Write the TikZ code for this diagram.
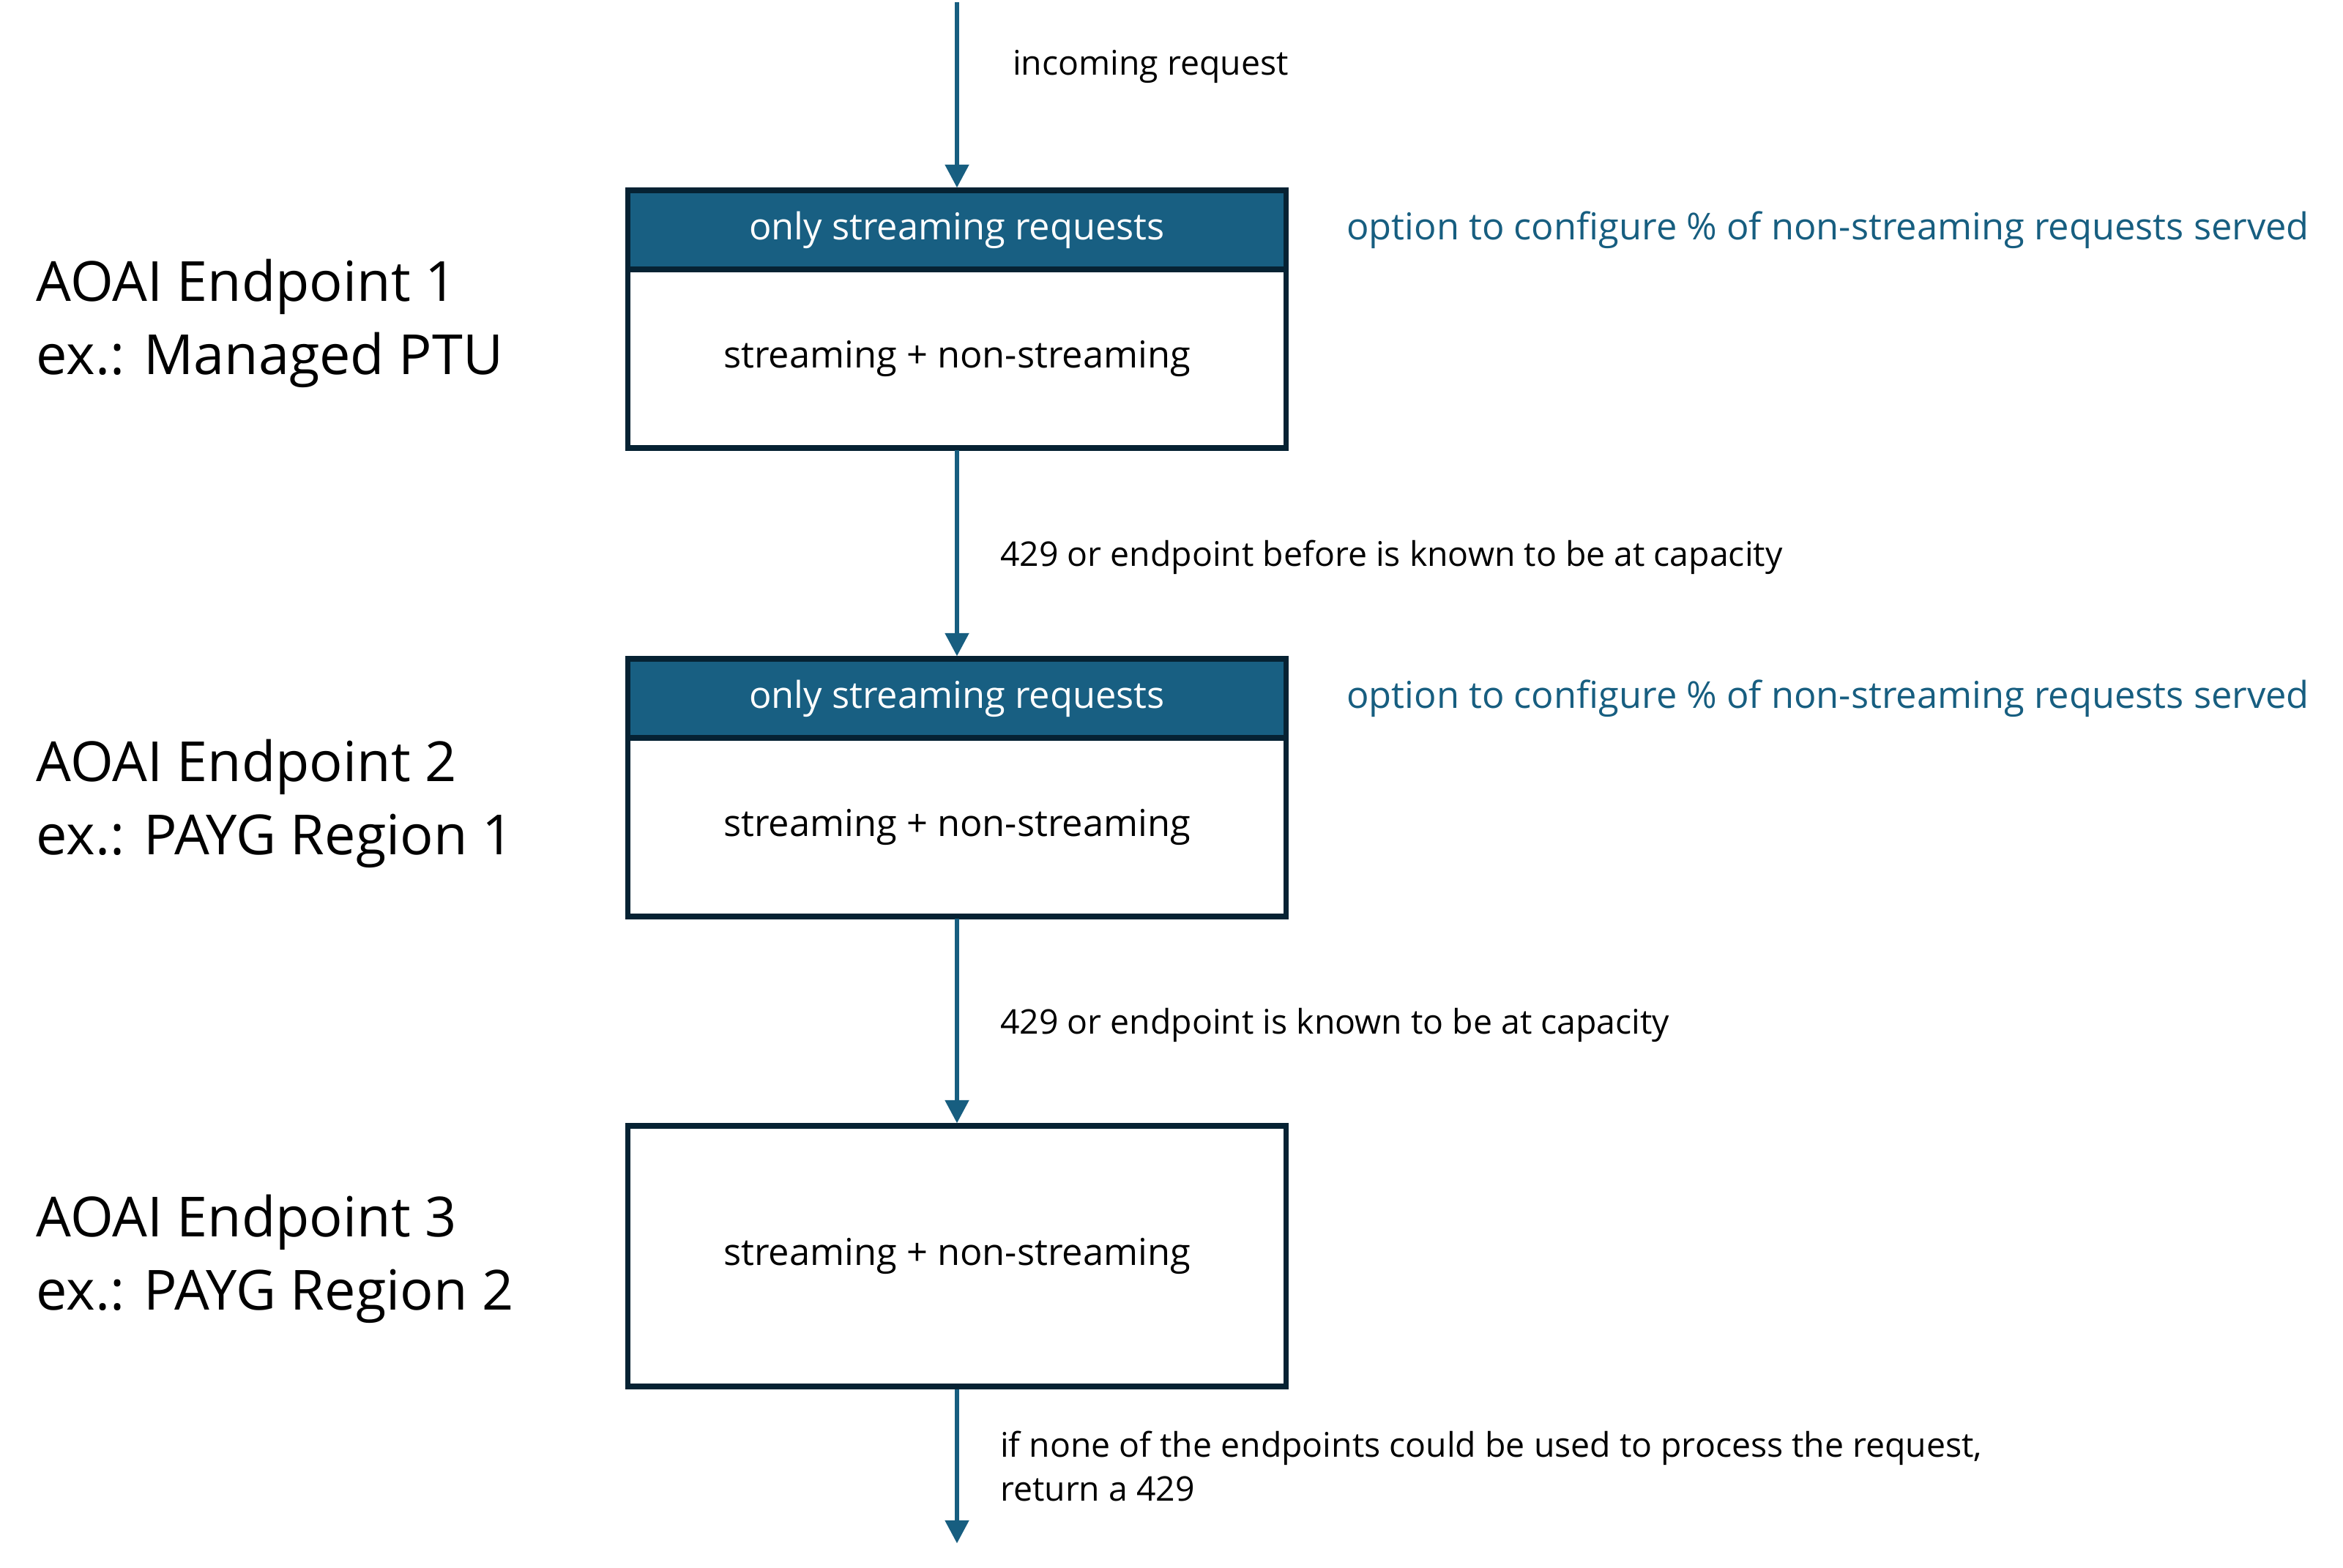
\documentclass[tikz,border=0pt]{standalone}
\usepackage{fontspec}
\setmainfont{Open Sans}
\usetikzlibrary{arrows.meta, positioning}
\definecolor{headblue}{HTML}{185F82}
\definecolor{boxline}{HTML}{062233}
\definecolor{flowblue}{HTML}{175E80}

\begin{document}
\begin{tikzpicture}[
    node distance=2.88cm,
    every node/.style={font=\fontsize{13.2}{17}\selectfont},
    headbox/.style={
        draw=boxline, line width=2.1pt, fill=headblue, text=white,
        minimum width=8.99cm, minimum height=1.08cm, inner sep=0pt, outer sep=0pt,
        font=\fontsize{14.4}{17}\selectfont
    },
    bodybox/.style={
        draw=boxline, line width=2.1pt,
        minimum width=8.99cm, minimum height=2.44cm, inner sep=0pt, outer sep=0pt,
        font=\fontsize{14.4}{17}\selectfont
    },
    flow/.style={draw=flowblue, line width=1.8pt, shorten >=1pt, shorten <=1pt,
        -{Triangle[width=9pt,length=9pt]}},
    tag/.style={inner sep=0pt, anchor=west, align=left},
    endpoint/.style={inner sep=0pt, anchor=west, align=left,
        font=\fontsize{21.5}{28.4}\selectfont},
    hint/.style={inner sep=0pt, text=flowblue, font=\fontsize{14.4}{17}\selectfont}
]
    \useasboundingbox (0,0) rectangle (32,21.42);

    % endpoint boxes
    \node[headbox] (head1) at (13.07,18.28) {only streaming requests};
    \node[bodybox] (body1) [below=0pt of head1] {streaming + non-streaming};
    \node[headbox] (head2) [below=of body1] {only streaming requests};
    \node[bodybox] (body2) [below=0pt of head2] {streaming + non-streaming};
    \node[bodybox, minimum height=3.56cm] (body3) [below=2.86cm of body2] {streaming + non-streaming};

    % side texts
    \node[hint, anchor=west] (opt1) [right=0.82cm of head1] {option to configure \% of non-streaming requests served};
    \node[hint, anchor=west] (opt2) [right=0.82cm of head2] {option to configure \% of non-streaming requests served};
    \node[endpoint] (ep1) at (0.49,17.00) {AOAI Endpoint 1\\ex.: Managed PTU};
    \node[endpoint] (ep2) at (0.49,10.44) {AOAI Endpoint 2\\ex.: PAYG Region 1};
    \node[endpoint] (ep3) at (0.49,4.22) {AOAI Endpoint 3\\ex.: PAYG Region 2};

    % request flow
    \coordinate (in) at (13.07,21.42);
    \coordinate (out) at (13.07,0.30);
    \draw[flow] (in) -- node[tag, pos=0.35, xshift=0.73cm] {incoming request} (head1);
    \draw[flow] (body1) -- node[tag, pos=0.52, xshift=0.56cm] {429 or endpoint before is known to be at capacity} (head2);
    \draw[flow] (body2) -- node[tag, pos=0.52, xshift=0.56cm] {429 or endpoint is known to be at capacity} (body3);
    \draw[flow] (body3) -- node[tag, midway, xshift=0.56cm] {if none of the endpoints could be used to process the request,\\return a 429} (out);
\end{tikzpicture}
\end{document}
